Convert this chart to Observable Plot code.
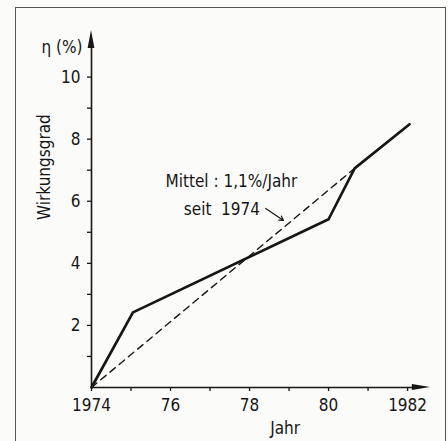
<!DOCTYPE html>
<html>
<head>
<meta charset="utf-8">
<script src="https://cdn.jsdelivr.net/npm/d3@7"></script>
<script src="https://cdn.jsdelivr.net/npm/@observablehq/plot@0.6"></script>
<style>
  html, body { margin: 0; padding: 0; background: #fbfbfa; }
  #wrap { position: relative; width: 448px; height: 441px; overflow: hidden; }
  #frame { position: absolute; left: 15px; top: 7px; width: 431px; height: 440px; border: 1.5px solid #555; box-sizing: border-box; }
  #wrap svg { position: absolute; left: 0; top: 0; }
</style>
</head>
<body>
<div id="wrap"><div id="frame"></div></div>
<script>
// Data
const years = [1974, 1975.05, 1980.0, 1980.66, 1982.05];
const eta = [0, 2.42, 5.42, 7.06, 8.48];
const trendYears = [1974, 1980.66];
const trendEta = [0, 7.06];

const xTicks = [1974, 1975, 1976, 1977, 1978, 1979, 1980, 1981, 1982];
const xTickLabels = ["1974", "", "76", "", "78", "", "80", "", "1982"];
const yTicks = [1, 2, 3, 4, 5, 6, 7, 8, 9, 10];
const yTickLabels = ["", "2", "", "4", "", "6", "", "8", "", "10"];

const xMax = 1982.58, yMax = 11.5;

const series = years.map((x, i) => ({x, y: eta[i]}));
const trend = trendYears.map((x, i) => ({x, y: trendEta[i]}));
const xLab = new Map(xTicks.map((t, i) => [t, xTickLabels[i]]));
const yLab = new Map(yTicks.map((t, i) => [t, yTickLabels[i]]));

const font = "'DejaVu Sans Condensed', 'Liberation Sans Narrow', 'DejaVu Sans', sans-serif";
const ink = "#161616";

const chart = Plot.plot({
  width: 448,
  height: 441,
  marginLeft: 91,
  marginRight: 18,
  marginTop: 30,
  marginBottom: 54,
  style: {fontFamily: font, fontSize: "17px", color: ink, background: "transparent", fontStretch: "condensed"},
  x: {domain: [1974, xMax]},
  y: {domain: [0, yMax]},
  marks: [
    Plot.axisX({ticks: xTicks, tickSize: 4, tickPadding: 7, tickFormat: d => xLab.get(d), label: null, fontSize: 17, strokeWidth: 1.3}),
    Plot.axisY({ticks: yTicks, tickSize: 4, tickPadding: 7, tickFormat: d => yLab.get(d), label: null, fontSize: 17, strokeWidth: 1.3}),
    Plot.ruleY([0], {x1: 1974, x2: xMax - 0.3, stroke: ink, strokeWidth: 1.6}),
    Plot.ruleX([1974], {y1: 0, y2: yMax - 0.4, stroke: ink, strokeWidth: 1.6}),
    Plot.areaY([{x: xMax - 0.46, lo: -0.1, hi: 0.1}, {x: xMax, lo: 0, hi: 0}], {x: "x", y1: "lo", y2: "hi", fill: ink}),
    Plot.areaX([{y: yMax - 0.58, lo: 1974 - 0.085, hi: 1974 + 0.085}, {y: yMax, lo: 1974, hi: 1974}], {y: "y", x1: "lo", x2: "hi", fill: ink}),
    Plot.line(trend, {x: "x", y: "y", stroke: ink, strokeWidth: 1.4, strokeDasharray: "7,5"}),
    Plot.line(series, {x: "x", y: "y", stroke: ink, strokeWidth: 2.7, strokeLinejoin: "miter"}),
    Plot.text(["η (%)"], {x: 1974, y: 10.95, dx: -9, textAnchor: "end", fontSize: 17, fill: ink}),
    Plot.text(["Wirkungsgrad"], {x: 1974, y: 7.1, dx: -47, rotate: -90, fontSize: 17, fill: ink}),
    Plot.text(["Jahr"], {x: 1978.9, y: 0, dy: 41, fontSize: 17, fill: ink}),
    Plot.text(["Mittel : 1,1%/Jahr"], {x: 1977.54, y: 6.65, fontSize: 17, fill: ink}),
    Plot.text(["seit  1974"], {x: 1977.3, y: 5.72, fontSize: 17, fill: ink}),
    Plot.arrow([{x1: 1978.41, y1: 5.77, x2: 1978.86, y2: 5.38}], {x1: "x1", y1: "y1", x2: "x2", y2: "y2", stroke: ink, strokeWidth: 1.2, headLength: 6})
  ]
});
document.getElementById("wrap").appendChild(chart);
</script>
</body>
</html>
